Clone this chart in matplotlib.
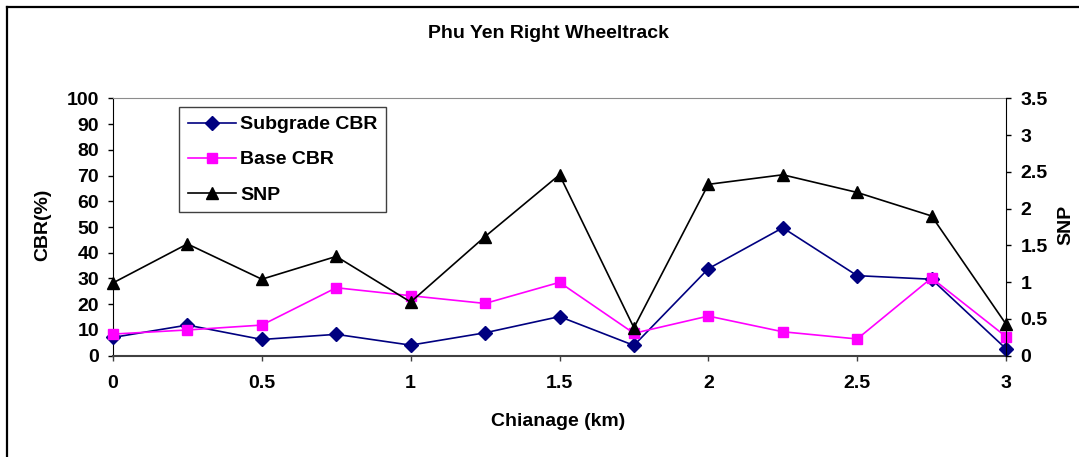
import matplotlib
matplotlib.use("Agg")
import matplotlib.pyplot as plt
from matplotlib.lines import Line2D
from matplotlib.ticker import FormatStrFormatter

chainage = [0, 0.25, 0.5, 0.75, 1, 1.25, 1.5, 1.75, 2, 2.25, 2.5, 2.75, 3]
subgrade_cbr = [7.1, 11.9, 6.3, 8.3, 4.1, 8.9, 15.2, 4.0, 33.8, 49.7, 31.1, 29.7, 2.7]
base_cbr = [8.4, 10.0, 11.9, 26.4, 23.3, 20.3, 28.5, 8.7, 15.4, 9.3, 6.5, 30.2, 7.4]
snp = [0.99, 1.52, 1.04, 1.35, 0.73, 1.62, 2.46, 0.38, 2.33, 2.46, 2.22, 1.90, 0.43]

plt.rcParams["font.family"] = ["Liberation Sans", "DejaVu Sans"]
plt.rcParams["font.weight"] = "bold"

W, H = 1079, 457
fs = 14
fig = plt.figure(figsize=(W / 100, H / 100), dpi=100)
ax = fig.add_axes([113 / W, 1 - 355.7 / H, (1006 - 113) / W, (355.7 - 98.3) / H])
ax2 = ax.twinx()

l1, = ax.plot(chainage, subgrade_cbr, color="#000080", marker="D", markersize=7,
              linewidth=1.2, label="Subgrade CBR", clip_on=False, zorder=3)
l2, = ax.plot(chainage, base_cbr, color="#FF00FF", marker="s", markersize=7.5,
              linewidth=1.2, label="Base CBR", clip_on=False, zorder=4)
l3, = ax2.plot(chainage, snp, color="black", marker="^", markersize=9,
               linewidth=1.2, label="SNP", clip_on=False, zorder=5)

ax.set_xlim(0, 3)
ax.set_ylim(0, 100)
ax2.set_ylim(0, 3.5)
ax.set_xticks([0, 0.5, 1, 1.5, 2, 2.5, 3])
ax.set_yticks(range(0, 101, 10))
ax2.set_yticks([0, 0.5, 1, 1.5, 2, 2.5, 3, 3.5])
ax.xaxis.set_major_formatter(FormatStrFormatter("%g"))
ax2.yaxis.set_major_formatter(FormatStrFormatter("%g"))

ax.spines["top"].set_color("#8c8c8c")
ax.spines["bottom"].set_color("#404040")
ax.spines["bottom"].set_linewidth(1.5)
ax.spines["left"].set_color("black")
ax.spines["right"].set_visible(False)
for s in ["top", "left", "bottom"]:
    ax2.spines[s].set_visible(False)
ax2.spines["right"].set_color("black")

ax.tick_params(axis="y", direction="out", length=3.6, width=1, pad=6.5, labelsize=fs)
ax.tick_params(axis="x", direction="out", length=3.6, width=1, color="#404040", pad=10, labelsize=fs)
ax2.tick_params(axis="y", direction="out", length=3.6, width=1, pad=7, labelsize=fs)

fig.text(548 / W, 1 - 33 / H, "Phu Yen Right Wheeltrack", ha="center", va="center",
         fontsize=fs, fontweight="bold")
fig.text(558 / W, 1 - 422 / H, "Chianage (km)", ha="center", va="center",
         fontsize=fs, fontweight="bold")
fig.text(43 / W, 1 - 225 / H, "CBR(%)", ha="center", va="center", rotation=90,
         fontsize=fs, fontweight="bold")
fig.text(1066 / W, 1 - 225 / H, "SNP", ha="center", va="center", rotation=90,
         fontsize=fs, fontweight="bold")

leg = ax2.legend(handles=[l1, l2, l3], loc="upper left",
                 bbox_to_anchor=(179 / W, 1 - 107 / H), bbox_transform=fig.transFigure,
                 fancybox=False, framealpha=1, edgecolor="#404040", fontsize=fs,
                 handlelength=2.5, handletextpad=0.2, labelspacing=0.9, borderpad=0.45,
                 borderaxespad=0)
leg.get_frame().set_linewidth(1.0)

# outer chart border (left and top only visible)
fig.add_artist(Line2D([7 / W, 7 / W], [0, 1 - 7 / H], color="black", linewidth=1.6))
fig.add_artist(Line2D([7 / W, 1], [1 - 7 / H, 1 - 7 / H], color="black", linewidth=1.6))

fig.savefig("out.png", dpi=100)
